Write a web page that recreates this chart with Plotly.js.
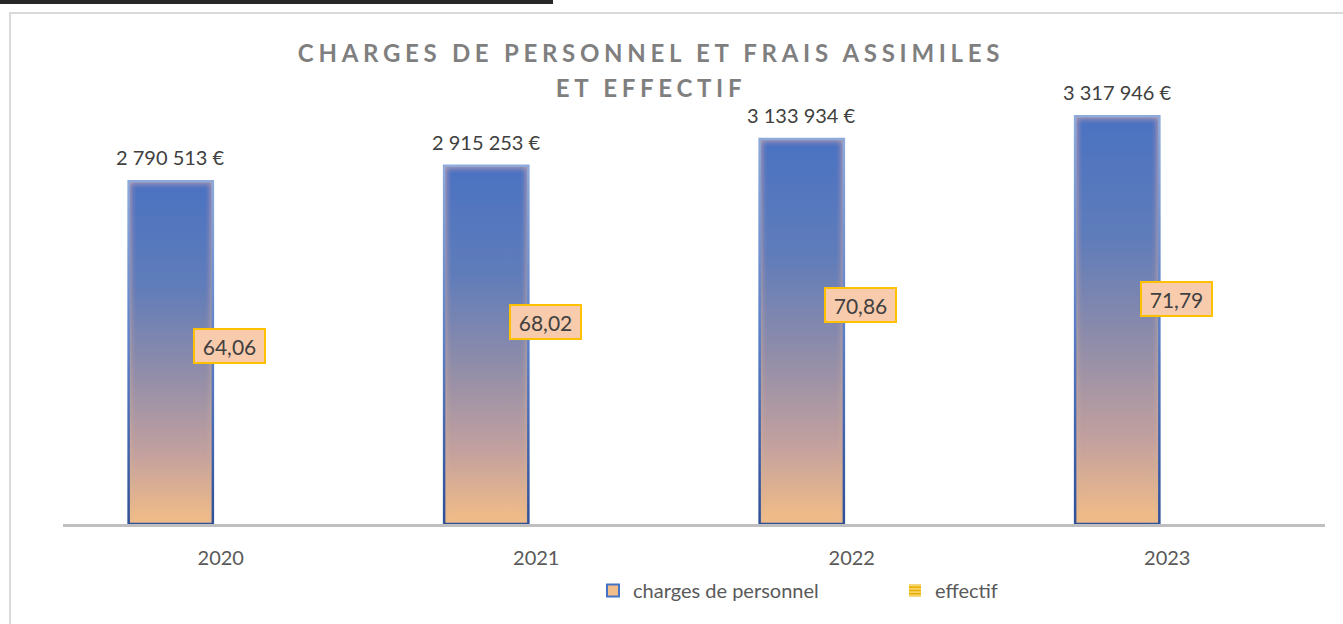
<!DOCTYPE html>
<html>
<head>
<meta charset="utf-8">
<script src="https://cdn.plot.ly/plotly-3.0.1.min.js"></script>
<style>
  html, body { margin: 0; padding: 0; background: #ffffff; }
  #wrap { position: relative; width: 1343px; height: 624px; overflow: hidden; }
  #chart { position: absolute; left: 0; top: 0; width: 1343px; height: 624px; }
  #topbar { position: absolute; left: 0; top: 0; width: 553px; height: 4px; background: #262626; z-index: 5; }
  #frame { position: absolute; left: 9px; top: 12px; width: 1400px; height: 700px; border-left: 2px solid #d9d9d9; border-top: 2px solid #d9d9d9; z-index: 5; pointer-events: none; }
  .gtitle { letter-spacing: 4.7px; }
</style>
</head>
<body>
<div id="wrap">
  <div id="chart"></div>
  <div id="topbar"></div>
  <div id="frame"></div>
</div>
<script>
// ---- data ----
const years = ['2020', '2021', '2022', '2023'];
const charges = [2790513, 2915253, 3133934, 3317946];
const effectif = [64.06, 68.02, 70.86, 71.79];
const seriesNames = ['charges de personnel', 'effectif'];
const titleText = 'CHARGES DE PERSONNEL ET FRAIS ASSIMILES<br>ET EFFECTIF';

function fmtEuro(v) {
  return String(v).replace(/\B(?=(\d{3})+(?!\d))/g, ' ') + ' €';
}
function fmtDec(v) {
  return v.toFixed(2).replace('.', ',');
}

const FONT = 'Lato, "Open Sans", sans-serif';
const TXT = '#404040';

const traces = [
  {
    type: 'bar',
    name: seriesNames[0],
    x: years,
    y: charges,
    offset: -0.292,
    width: 0.267,
    marker: { color: '#F2BE8A', line: { color: '#4472C4', width: 2 } },
    hoverinfo: 'skip'
  },
  {
    type: 'bar',
    name: seriesNames[1],
    x: years,
    y: effectif,
    yaxis: 'y2',
    width: 0,
    marker: {
      color: '#FFC000',
      line: { width: 0 },
      pattern: { shape: '-', fgcolor: '#F9D870', bgcolor: '#E8AE00', size: 4, solidity: 0.45 }
    },
    hoverinfo: 'skip'
  }
];

// annotations placed at each category index of the x axis
const annotations = [];
years.forEach((yr, i) => {
  annotations.push({
    x: i, y: charges[i], xref: 'x', yref: 'y',
    text: fmtEuro(charges[i]),
    showarrow: false, xanchor: 'center', yanchor: 'bottom',
    xshift: -50, yshift: 10,
    font: { family: FONT, size: 20, color: TXT }
  });
  annotations.push({
    x: i, y: effectif[i], xref: 'x', yref: 'y2',
    text: fmtDec(effectif[i]),
    showarrow: false, xanchor: 'center', yanchor: 'middle',
    xshift: 9,
    width: 69, height: 32,
    bgcolor: '#F8CBAD', bordercolor: '#FFC000', borderwidth: 2, borderpad: 0,
    font: { family: FONT, size: 21, color: TXT }
  });
});

const layout = {
  width: 1343, height: 624,
  margin: { l: 63, r: 18, t: 94, b: 100 },
  paper_bgcolor: '#ffffff', plot_bgcolor: '#ffffff',
  showlegend: true,
  title: {
    text: titleText,
    font: { family: FONT, size: 24, weight: 'bold', color: '#7F7F7F' },
    xref: 'container', x: 651 / 1343, xanchor: 'center',
    yref: 'container', y: 1 - 62 / 624, yanchor: 'top'
  },
  xaxis: {
    type: 'category',
    range: [-0.5, 3.5], autorange: false,
    showline: true, linecolor: '#BFBFBF', linewidth: 3,
    ticks: 'outside', ticklen: 14, tickcolor: 'rgba(0,0,0,0)',
    tickfont: { family: FONT, size: 20, color: '#595959' },
    showgrid: false, zeroline: false, fixedrange: true
  },
  yaxis: {
    range: [0, 3500000],
    visible: false, showgrid: false, zeroline: false, fixedrange: true
  },
  yaxis2: {
    overlaying: 'y', side: 'right',
    range: [34.89, 105.42],
    visible: false, showgrid: false, zeroline: false, fixedrange: true
  },
  legend: {
    orientation: 'h',
    xref: 'container', x: 593 / 1343, xanchor: 'left',
    yref: 'container', y: 1 - 571 / 624, yanchor: 'top',
    entrywidth: 257,
    font: { family: FONT, size: 20, color: '#595959' },
    bgcolor: 'rgba(0,0,0,0)'
  },
  annotations: annotations,
  bargap: 0.2
};

function decorate(gd) {
  const svg = gd.querySelector('.main-svg');
  if (!svg) return;
  const NS = 'http://www.w3.org/2000/svg';
  if (!svg.querySelector('#barFillGrad')) {
    const defs = document.createElementNS(NS, 'defs');
    const mk = (id, stops) => {
      const g = document.createElementNS(NS, 'linearGradient');
      g.setAttribute('id', id);
      g.setAttribute('x1', '0'); g.setAttribute('y1', '0');
      g.setAttribute('x2', '0'); g.setAttribute('y2', '1');
      stops.forEach(s => {
        const st = document.createElementNS(NS, 'stop');
        st.setAttribute('offset', s[0]);
        st.setAttribute('stop-color', s[1]);
        g.appendChild(st);
      });
      defs.appendChild(g);
    };
    mk('barFillGrad', [['0', '#4A72C2'], ['0.3', '#5F7CBA'], ['0.55', '#8E8CAA'], ['0.8', '#C4A19E'], ['1', '#F4BE86']]);
    mk('barStrokeGrad', [['0', '#8EAADB'], ['0.5', '#5B7FC8'], ['1', '#2F4F96']]);
    defs.insertAdjacentHTML('beforeend',
      '<filter id="innerGlow" x="-20%" y="-5%" width="140%" height="110%">' +
      '<feFlood flood-color="#D8B496" flood-opacity="0.95" result="fl"/>' +
      '<feComposite in="fl" in2="SourceAlpha" operator="out" result="outside"/>' +
      '<feGaussianBlur in="outside" stdDeviation="3.5" result="bl"/>' +
      '<feComposite in="bl" in2="SourceAlpha" operator="in" result="glow"/>' +
      '<feMerge><feMergeNode in="SourceGraphic"/><feMergeNode in="glow"/></feMerge>' +
      '</filter>');
    svg.insertBefore(defs, svg.firstChild);
  }
  const tr = gd.querySelectorAll('.barlayer .trace');
  if (tr.length) {
    tr[0].querySelectorAll('.point').forEach(pt => {
      const p = pt.querySelector('path:not(.edgeclone)');
      if (!p) return;
      p.style.fill = 'url(#barFillGrad)';
      p.style.stroke = 'none';
      p.setAttribute('filter', 'url(#innerGlow)');
      let c = pt.querySelector('path.edgeclone');
      if (!c) {
        c = document.createElementNS(NS, 'path');
        c.setAttribute('class', 'edgeclone');
        pt.appendChild(c);
      }
      c.setAttribute('d', p.getAttribute('d'));
      c.style.fill = 'none';
      c.style.stroke = 'url(#barStrokeGrad)';
      c.style.strokeWidth = '2.5px';
    });
  }
  const lines = gd.querySelectorAll('.gtitle tspan.line');
  lines.forEach((t, i) => { if (i > 0) t.setAttribute('dy', '35px'); });
}

Plotly.newPlot('chart', traces, layout, { displayModeBar: false, staticPlot: true }).then(gd => {
  decorate(gd);
  gd.on('plotly_afterplot', () => decorate(gd));
});
</script>
</body>
</html>
